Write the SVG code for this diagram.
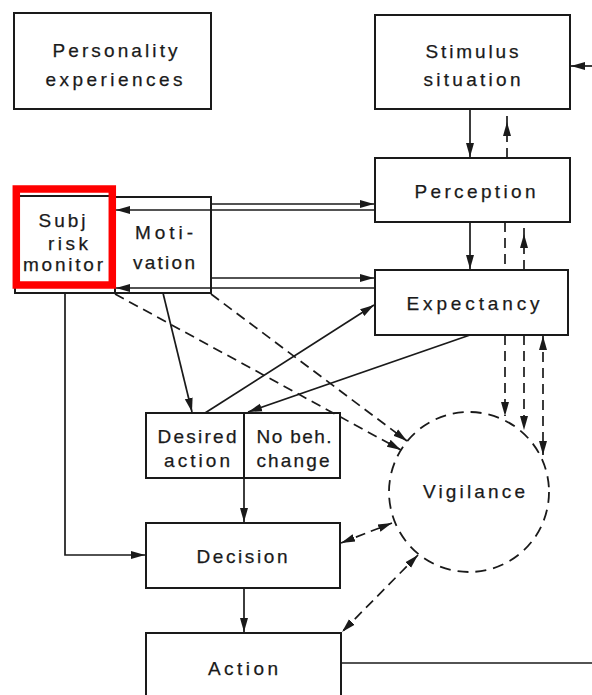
<svg xmlns="http://www.w3.org/2000/svg" width="592" height="695" viewBox="0 0 592 695">
<style>
.box{fill:#fff;stroke:#1a1a1a;stroke-width:2}
.t{font-family:"Liberation Sans",Arial,sans-serif;font-size:19px;text-anchor:middle;fill:#1a1a1a;stroke:#1a1a1a;stroke-width:0.25}
.c{fill:none;stroke:#1a1a1a;stroke-width:1.7}
.d{fill:none;stroke:#1a1a1a;stroke-width:1.7;stroke-dasharray:10 6}
.hl{fill:none;stroke:#ff0000;stroke-width:7.5}
</style>
<defs>
<marker id="ah" markerUnits="userSpaceOnUse" markerWidth="16" markerHeight="10" viewBox="0 -5 16 10" refX="14" refY="0" orient="auto">
<path d="M0,-4 L14,0 L0,4 z" fill="#1a1a1a"/>
</marker>
<marker id="as" markerUnits="userSpaceOnUse" markerWidth="16" markerHeight="10" viewBox="0 -5 16 10" refX="14" refY="0" orient="auto-start-reverse">
<path d="M0,-4 L14,0 L0,4 z" fill="#1a1a1a"/>
</marker>
</defs>

<g id="personality">
<rect class="box" x="14" y="13" width="197" height="96"/>
<text class="t" x="115" y="57" textLength="125" lengthAdjust="spacing">Personality</text>
<text class="t" x="114" y="86" textLength="137" lengthAdjust="spacing">experiences</text>
</g>

<g id="stimulus">
<rect class="box" x="375" y="15" width="195" height="94"/>
<text class="t" x="472" y="58" textLength="93" lengthAdjust="spacing">Stimulus</text>
<text class="t" x="472" y="86" textLength="97" lengthAdjust="spacing">situation</text>
</g>

<g id="perception">
<rect class="box" x="375" y="158" width="195" height="64"/>
<text class="t" x="475" y="198" textLength="121" lengthAdjust="spacing">Perception</text>
</g>

<g id="expectancy">
<rect class="box" x="375" y="270" width="193" height="65"/>
<text class="t" x="473" y="310" textLength="133" lengthAdjust="spacing">Expectancy</text>
</g>

<g id="subj-risk-monitor">
<rect class="box" x="15" y="196" width="100" height="97"/>
<text class="t" x="62" y="227" textLength="47" lengthAdjust="spacing">Subj</text>
<text class="t" x="68" y="250" textLength="40" lengthAdjust="spacing">risk</text>
<text class="t" x="63" y="271" textLength="80" lengthAdjust="spacing">monitor</text>
</g>

<g id="motivation">
<rect class="box" x="115" y="197" width="96" height="96"/>
<text class="t" x="164" y="239" textLength="58" lengthAdjust="spacing">Moti-</text>
<text class="t" x="164" y="269" textLength="62" lengthAdjust="spacing">vation</text>
</g>

<g id="desired-action">
<rect class="box" x="146" y="413" width="98" height="65"/>
<text class="t" x="197" y="443" textLength="79" lengthAdjust="spacing">Desired</text>
<text class="t" x="197" y="467" textLength="66" lengthAdjust="spacing">action</text>
</g>

<g id="no-beh-change">
<rect class="box" x="244" y="413" width="96" height="65"/>
<text class="t" x="294" y="443" textLength="75" lengthAdjust="spacing">No beh.</text>
<text class="t" x="293" y="467" textLength="73" lengthAdjust="spacing">change</text>
</g>

<g id="vigilance">
<circle cx="469" cy="492" r="80" fill="#fff" stroke="#1a1a1a" stroke-width="1.8" stroke-dasharray="11 7"/>
<text class="t" x="474" y="498" textLength="102" lengthAdjust="spacing">Vigilance</text>
</g>

<g id="decision">
<rect class="box" x="146" y="523" width="194" height="65"/>
<text class="t" x="242" y="563" textLength="91" lengthAdjust="spacing">Decision</text>
</g>

<g id="action">
<rect class="box" x="146" y="633" width="195" height="70"/>
<text class="t" x="243" y="675" textLength="70" lengthAdjust="spacing">Action</text>
</g>

<g id="connectors">
<line class="c" x1="470" y1="109" x2="470" y2="157" marker-end="url(#ah)"/>
<polyline class="d" points="507,158 507,122 507,109" marker-mid="url(#ah)"/>
<line class="c" x1="470" y1="222" x2="470" y2="269" marker-end="url(#ah)"/>
<line class="d" x1="505" y1="222" x2="505" y2="270"/>
<polyline class="d" points="524,270 524,234 524,222" marker-mid="url(#ah)"/>
<line class="d" x1="505" y1="335" x2="505" y2="416" marker-end="url(#ah)"/>
<line class="d" x1="524" y1="335" x2="524" y2="430" marker-end="url(#ah)"/>
<line class="d" x1="543" y1="336" x2="543" y2="455" marker-start="url(#as)" marker-end="url(#ah)"/>
<line class="c" x1="211" y1="204" x2="374" y2="204" marker-end="url(#ah)"/>
<line class="c" x1="375" y1="210" x2="116" y2="210" marker-end="url(#ah)"/>
<line class="c" x1="211" y1="278" x2="374" y2="278" marker-end="url(#ah)"/>
<line class="c" x1="375" y1="288" x2="116" y2="288" marker-end="url(#ah)"/>
<polyline class="c" points="65,293 65,555 145,555" marker-end="url(#ah)"/>
<line class="c" x1="163" y1="293" x2="192" y2="412" marker-end="url(#ah)"/>
<line class="c" x1="205" y1="413" x2="374" y2="305" marker-end="url(#ah)"/>
<line class="c" x1="470" y1="335" x2="248" y2="412" marker-end="url(#ah)"/>
<line class="d" x1="115" y1="294" x2="401" y2="450" marker-end="url(#ah)"/>
<line class="d" x1="211" y1="294" x2="407" y2="441" marker-end="url(#ah)"/>
<line class="c" x1="244" y1="478" x2="244" y2="522" marker-end="url(#ah)"/>
<line class="c" x1="244" y1="588" x2="244" y2="632" marker-end="url(#ah)"/>
<line class="d" x1="341" y1="543" x2="392" y2="523" marker-start="url(#as)" marker-end="url(#ah)"/>
<line class="d" x1="418" y1="555" x2="342" y2="632" marker-start="url(#as)" marker-end="url(#ah)"/>
<line class="c" x1="341" y1="663" x2="592" y2="663"/>
<line class="c" x1="592" y1="66" x2="571" y2="66" marker-end="url(#ah)"/>
</g>

<rect class="hl" x="16.3" y="189" width="96" height="96"/>
</svg>
